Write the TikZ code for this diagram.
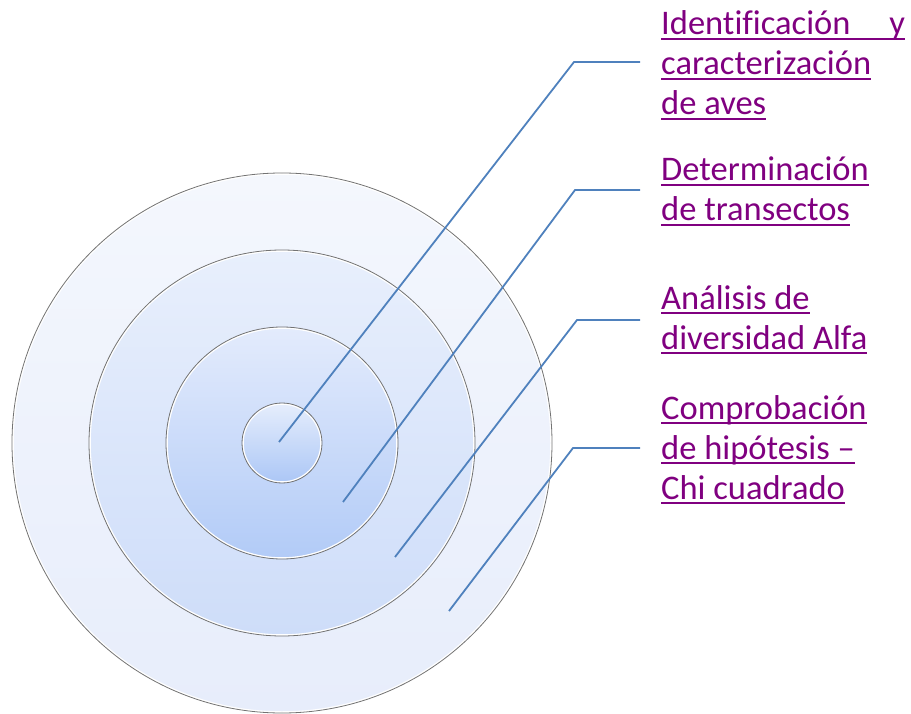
\documentclass[tikz,border=0pt]{standalone}
\usepackage{fontspec}
\setmainfont{Carlito}[Ligatures=NoCommon]
\usepackage{tikz}

\definecolor{lblpurple}{HTML}{800080}
\definecolor{linkblue}{HTML}{4F81BD}
\definecolor{rimgray}{HTML}{737373}
\newcommand{\ulin}[1]{\setbox0\hbox{#1}\rlap{\rule[-5pt]{\wd0}{1.8pt}}\box0}

\begin{document}
\begin{tikzpicture}[x=1pt, y=-1pt]
                \useasboundingbox (0,0) rectangle (911,714);
                \clip (0,0) rectangle (911,714);
                \begin{scope}[every node/.style={circle, draw=white, line width=1.5pt, inner sep=0}]
                        \node [minimum size=538pt, top color={rgb,255:red,244;green,247;blue,253}, bottom color={rgb,255:red,231;green,237;blue,251}] (R4) at (282,443) {};
                        \node [minimum size=384pt, top color={rgb,255:red,232;green,239;blue,252}, bottom color={rgb,255:red,206;green,221;blue,249}] (R3) at (282,443) {};
                        \node [minimum size=230pt, top color={rgb,255:red,227;green,235;blue,252}, bottom color={rgb,255:red,178;green,203;blue,247}] (R2) at (282,443) {};
                        \node [minimum size=78pt, top color={rgb,255:red,229;green,237;blue,252}, bottom color={rgb,255:red,172;green,199;blue,246}] (R1) at (282,443) {};
                \end{scope}
                \foreach \r in {270,193,116,40}
                        \draw [rimgray, line width=0.8pt] (R1.center) circle [radius=\r];
                \begin{scope}[every node/.style={anchor=base west, align=left, inner xsep=21pt, inner ysep=0pt, text=lblpurple, font=\fontsize{34.5}{40}\selectfont}]
                        \node (T1) at (640,115) {\ulin{\makebox[244pt][l]{Identificación\hfill y}}\\\ulin{caracterización}\\\ulin{de aves}};
                        \node (T2) at (640,221) {\ulin{Determinación}\\\ulin{de transectos}};
                        \node (T3) at (640,349) {\ulin{Análisis de}\\\ulin{diversidad Alfa}};
                        \node (T4) at (640,499) {\ulin{Comprobación}\\\ulin{de hipótesis –}\\\ulin{Chi cuadrado}};
                \end{scope}
                \coordinate (S1) at (279,442);
                \coordinate (S2) at (343,502);
                \coordinate (S3) at (395,557);
                \coordinate (S4) at (449,611);
                \coordinate (K1) at (574,62);
                \coordinate (K2) at (575,190);
                \coordinate (K3) at (577,320);
                \coordinate (K4) at (573,448);
                \begin{scope}[every path/.style={linkblue, line width=1.8pt}]
                        \draw (S1) -- (K1) -- (K1 -| T1.west);
                        \draw (S2) -- (K2) -- (K2 -| T2.west);
                        \draw (S3) -- (K3) -- (K3 -| T3.west);
                        \draw (S4) -- (K4) -- (K4 -| T4.west);
                \end{scope}
        \end{tikzpicture}
\end{document}
